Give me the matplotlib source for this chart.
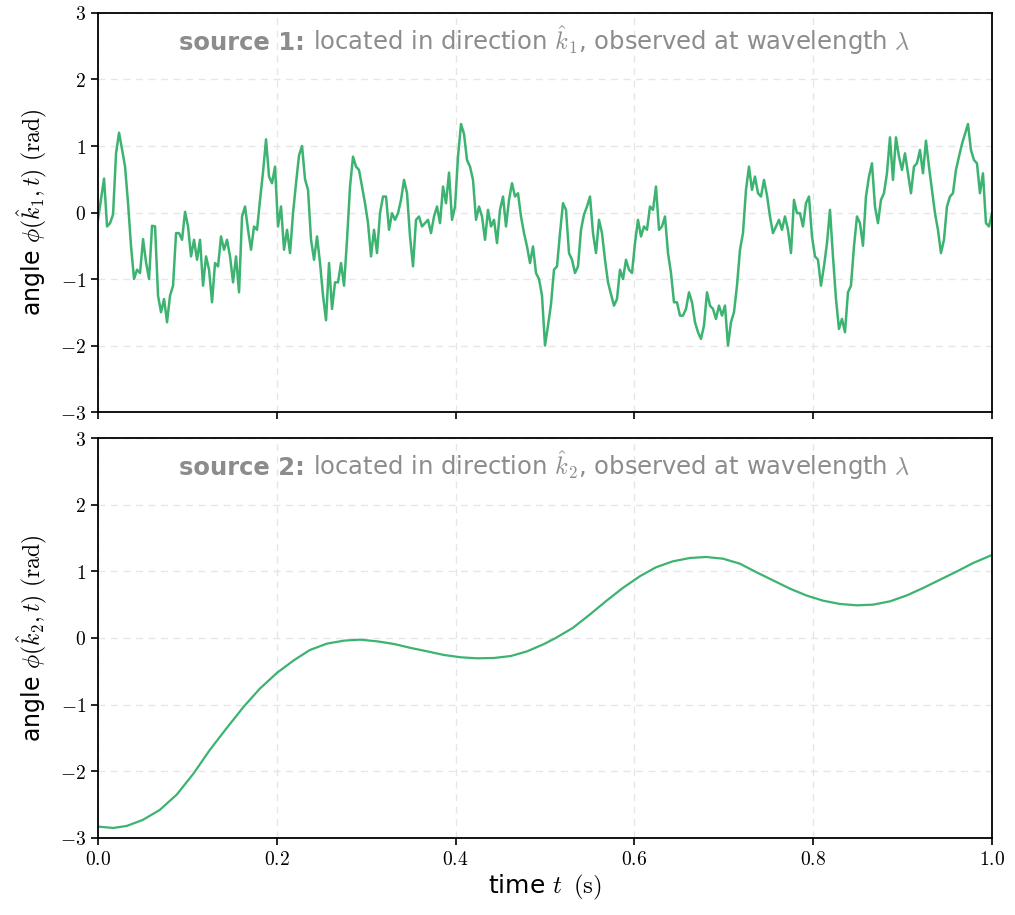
import numpy as np
import matplotlib
matplotlib.use("Agg")
import matplotlib.pyplot as plt
from matplotlib.ticker import FuncFormatter, MultipleLocator
from matplotlib.offsetbox import TextArea, HPacker, AnchoredOffsetbox

# ---------------- data ----------------
# source 1: noisy phase on a uniform time grid
phi1_part1 = [-0.10, 0.20, 0.51, -0.21, -0.16, -0.03, 0.89, 1.20, 0.95, 0.69,
              0.14, -0.51, -1.00, -0.86, -0.91, -0.40, -0.75, -1.00, -0.20, -0.21,
              -1.25, -1.50, -1.30, -1.65, -1.25, -1.10, -0.31, -0.31, -0.41, 0.01,
              -0.21, -0.66, -0.41, -0.71, -0.41, -1.10, -0.66, -0.86, -1.35, -0.76,
              -0.81, -0.36, -0.56, -0.41, -0.66, -1.05, -0.66, -1.20, -0.06, 0.09,
              -0.26, -0.56]
phi1_part2 = [-0.21, -0.26, 0.19, 0.61, 1.10, 0.54, 0.44, 0.69, -0.21, 0.09,
              -0.56, -0.26, -0.61, -0.01, 0.44, 0.86, 1.00, 0.50, 0.34, -0.41,
              -0.71, -0.36, -0.76, -1.25, -1.62, -0.76, -1.45, -1.05, -1.05, -0.76,
              -1.10, -0.41, 0.39, 0.84, 0.69, 0.64, 0.39, 0.14, -0.16, -0.66,
              -0.26, -0.61, -0.01, 0.24, 0.24, -0.26, -0.01, -0.11, -0.01]
phi1_part3 = [0.19, 0.49, 0.29, -0.36, -0.81, -0.11, -0.06, -0.21, -0.16, -0.11,
              -0.31, -0.06, 0.09, -0.16, 0.39, 0.14, 0.60, -0.11, 0.09, 0.84,
              1.33, 1.18, 0.79, 0.69, 0.49, -0.11, 0.09, -0.06, -0.41, 0.04,
              -0.21, -0.11, -0.46, 0.04, 0.24, -0.21, 0.19, 0.44, 0.24, 0.29,
              -0.06, -0.31, -0.51, -0.76, -0.51, -0.91, -1.00, -1.25, -2.00, -1.70]
phi1_part4 = [-1.38, -0.86, -0.81, -0.31, 0.14, 0.04, -0.61, -0.71, -0.91, -0.81,
              -0.26, -0.03, 0.09, 0.24, -0.31, -0.61, -0.11, -0.31, -0.71, -1.05,
              -1.23, -1.40, -1.30, -0.86, -1.00, -0.71, -0.86, -0.91, -0.46, -0.11,
              -0.36, -0.21, -0.26, 0.09, 0.04, 0.39, -0.26, -0.21, -0.06, -0.61,
              -0.91, -1.35, -1.35, -1.55, -1.55, -1.45, -1.20, -1.35, -1.65, -1.80]
phi1_part5 = [-1.90, -1.70, -1.20, -1.40, -1.45, -1.60, -1.40, -1.55, -1.40, -2.00,
              -1.65, -1.50, -1.10, -0.56, -0.31, 0.34, 0.69, 0.34, 0.54, 0.29,
              0.24, 0.49, 0.26, -0.06, -0.31, -0.21, -0.11, -0.26, -0.06, -0.26,
              -0.61, 0.19, -0.01, -0.01, -0.21, 0.14, 0.24, -0.36, -0.66, -0.71,
              -1.10, -0.81, -0.46, 0.04, -0.66, -1.30, -1.75, -1.60, -1.80, -1.20]
phi1_part6 = [-1.10, -0.51, -0.06, -0.16, -0.50, 0.24, 0.54, 0.74, 0.09, -0.16,
              0.19, 0.29, 0.59, 1.13, 0.49, 1.13, 0.84, 0.64, 0.89, 0.59,
              0.29, 0.69, 0.74, 0.94, 0.59, 1.08, 0.69, 0.34, -0.01, -0.26,
              -0.61, -0.41, 0.09, 0.24, 0.29, 0.64, 0.84, 1.03, 1.18, 1.33,
              0.94, 0.79, 0.74, 0.29, 0.59, -0.16, -0.21, -0.01]
phi1 = phi1_part1 + phi1_part2 + phi1_part3 + phi1_part4 + phi1_part5 + phi1_part6
t1 = np.linspace(0.0, 1.0, len(phi1))

# source 2: smooth phase
t2 = [0.000, 0.017, 0.032, 0.050, 0.069, 0.088, 0.107, 0.125, 0.144, 0.163,
      0.181, 0.200, 0.219, 0.237, 0.256, 0.275, 0.293, 0.312, 0.331, 0.350,
      0.368, 0.387, 0.406, 0.424, 0.443, 0.462, 0.480, 0.499, 0.512, 0.531,
      0.550, 0.568, 0.587, 0.606, 0.624, 0.643, 0.662, 0.680, 0.699, 0.718,
      0.736, 0.755, 0.774, 0.793, 0.811, 0.830, 0.849, 0.867, 0.886, 0.905,
      0.923, 0.942, 0.961, 0.979, 1.000]
phi2 = [-2.83, -2.85, -2.82, -2.73, -2.58, -2.35, -2.03, -1.68, -1.35, -1.03,
        -0.76, -0.525, -0.335, -0.18, -0.085, -0.04, -0.025, -0.05, -0.09, -0.15,
        -0.20, -0.255, -0.29, -0.305, -0.30, -0.27, -0.20, -0.09, 0.00, 0.15,
        0.35, 0.55, 0.75, 0.925, 1.06, 1.15, 1.20, 1.215, 1.19, 1.115,
        0.99, 0.865, 0.74, 0.635, 0.56, 0.51, 0.49, 0.50, 0.55, 0.64,
        0.75, 0.875, 1.00, 1.125, 1.245]

sources = ["1", "2"]

# ---------------- style ----------------
plt.rcParams['font.family'] = ['DejaVu Sans']
plt.rcParams['mathtext.fontset'] = 'cm'
line_color = '#3cb371'
grey = '#8c8c8c'

fig = plt.figure(figsize=(10.15, 9.15), dpi=100)
ax1 = fig.add_axes([0.0966, 0.5497, 0.8807, 0.4361])
ax2 = fig.add_axes([0.0966, 0.0842, 0.8807, 0.4371], sharex=ax1)

fmt_y = FuncFormatter(lambda v, p: r"$%d$" % int(round(v)))
fmt_x = FuncFormatter(lambda v, p: r"$%.1f$" % v)

for ax, t, phi, s, lw in [(ax1, t1, phi1, sources[0], 1.8), (ax2, t2, phi2, sources[1], 1.6)]:
    ax.plot(t, phi, color=line_color, lw=lw)
    ax.set_xlim(0, 1)
    ax.set_ylim(-3, 3)
    ax.yaxis.set_major_locator(MultipleLocator(1))
    ax.xaxis.set_major_locator(MultipleLocator(0.2))
    ax.yaxis.set_major_formatter(fmt_y)
    ax.xaxis.set_major_formatter(fmt_x)
    ax.grid(True, ls=(0, (5, 4)), color='#e6e6e6', lw=1.0)
    ax.set_axisbelow(True)
    ax.tick_params(direction='out', length=5, width=1.2, labelsize=14, color='black')
    for sp in ax.spines.values():
        sp.set_linewidth(1.3)
        sp.set_color('black')
    ax.set_ylabel(r"angle $\phi(\hat{k}_%s, t)$ $\mathrm{(rad)}$" % s, fontsize=17, labelpad=8)

    ta1 = TextArea("source %s:" % s, textprops=dict(color=grey, fontsize=17.5, fontweight='bold'))
    ta2 = TextArea(r"located in direction $\hat{k}_%s$, observed at wavelength $\lambda$" % s,
                   textprops=dict(color=grey, fontsize=17.5))
    box = HPacker(children=[ta1, ta2], align='baseline', pad=0, sep=6)
    anch = AnchoredOffsetbox(loc='upper center', child=box, pad=0, frameon=False,
                             bbox_to_anchor=(0.5, 0.975), bbox_transform=ax.transAxes,
                             borderpad=0)
    ax.add_artist(anch)

plt.setp(ax1.get_xticklabels(), visible=False)
ax2.set_xlabel(r"time $t$ $\,\mathrm{(s)}$", fontsize=18, labelpad=3)

fig.savefig("out.png", dpi=100)
